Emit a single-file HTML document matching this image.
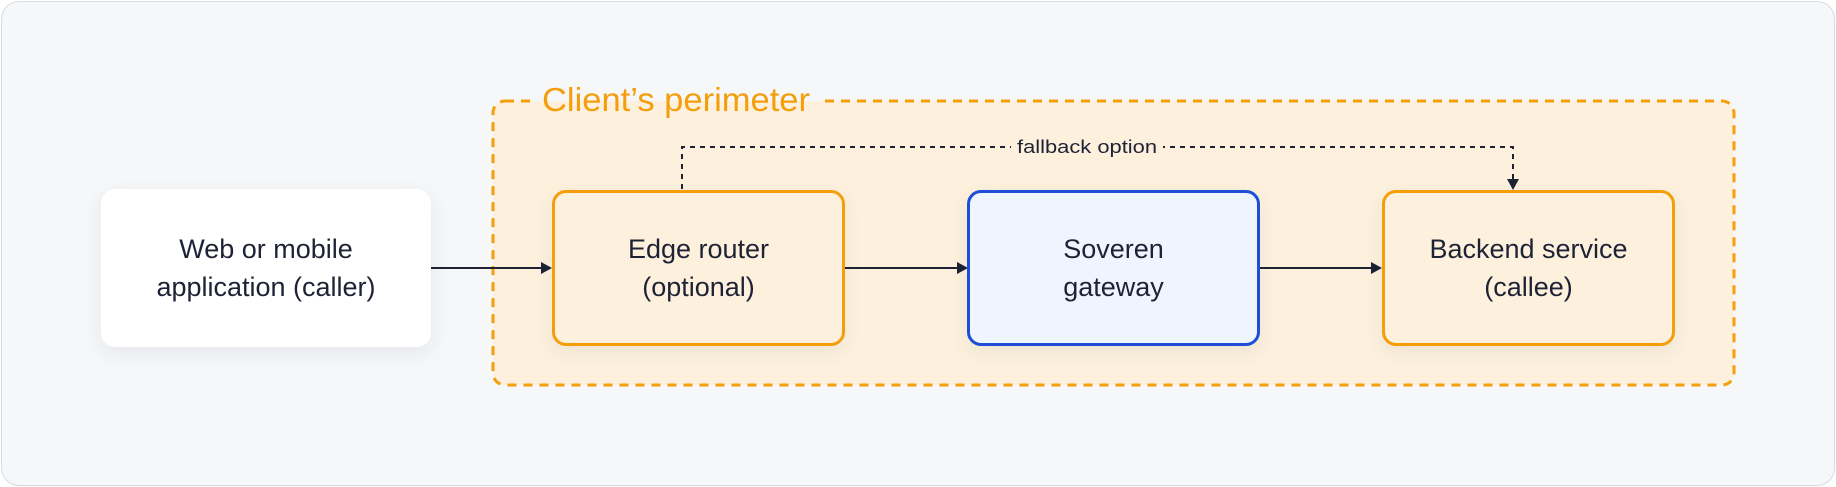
<!DOCTYPE html>
<html><head><meta charset="utf-8"><style>
html,body{margin:0;padding:0;background:#fff}
body{width:1836px;height:487px;position:relative;overflow:hidden;font-family:"Liberation Sans",sans-serif}
.frame{position:absolute;left:1px;top:1px;width:1832px;height:483px;border:1px solid #d9dbe0;border-radius:18px;background:#f6f7f9}
.box{position:absolute;box-sizing:border-box;display:flex;align-items:center;justify-content:center;text-align:center;font-size:27px;line-height:38px;color:#1e2235;border-radius:14px}
</style></head><body>
<div class="frame"></div>
<svg width="1836" height="487" style="position:absolute;left:0;top:0">
<rect x="493" y="101" width="1241" height="284" rx="12" fill="#fdf1de" stroke="#f59e0b" stroke-width="3" stroke-dasharray="9 7"/>
<rect x="532" y="99" width="292" height="2" fill="#f6f7f9"/>
<rect x="532" y="101" width="292" height="2" fill="#fdf1de"/>
<text x="542" y="111" font-family="Liberation Sans" font-size="33" fill="#f59e0b" textLength="268" lengthAdjust="spacingAndGlyphs">Client’s perimeter</text>
<g stroke="#1e2235" stroke-width="2" fill="none">
<path d="M682 189 V147 H1513 V180" stroke-dasharray="5 5"/>
<line x1="430" y1="268" x2="543" y2="268"/>
<line x1="844" y1="268" x2="959" y2="268"/>
<line x1="1259" y1="268" x2="1373" y2="268"/>
</g>
<rect x="1011" y="136" width="152" height="22" fill="#fdf1de"/>
<text x="1087" y="153" text-anchor="middle" font-family="Liberation Sans" font-size="18" fill="#1e2235" textLength="140" lengthAdjust="spacingAndGlyphs">fallback option</text>
<g fill="#1e2235">
<polygon points="552,268 541,262 541,274"/>
<polygon points="968,268 957,262 957,274"/>
<polygon points="1382,268 1371,262 1371,274"/>
<polygon points="1513,190 1507,179 1519,179"/>
</g>
</svg>
<div class="box" style="left:101px;top:189px;width:330px;height:158px;background:#fff;box-shadow:0 6px 20px rgba(30,34,53,0.08)">Web or mobile<br>application (caller)</div>
<div class="box" style="left:552px;top:190px;width:293px;height:156px;background:#fdf1de;border:3px solid #f59e0b;box-shadow:0 6px 20px rgba(30,34,53,0.07)">Edge router<br>(optional)</div>
<div class="box" style="left:967px;top:190px;width:293px;height:156px;background:#eef5ff;border:3px solid #1d4ed8;box-shadow:0 6px 20px rgba(30,34,53,0.07)">Soveren<br>gateway</div>
<div class="box" style="left:1382px;top:190px;width:293px;height:156px;background:#fdf1de;border:3px solid #f59e0b;box-shadow:0 6px 20px rgba(30,34,53,0.07)">Backend service<br>(callee)</div>
</body></html>
